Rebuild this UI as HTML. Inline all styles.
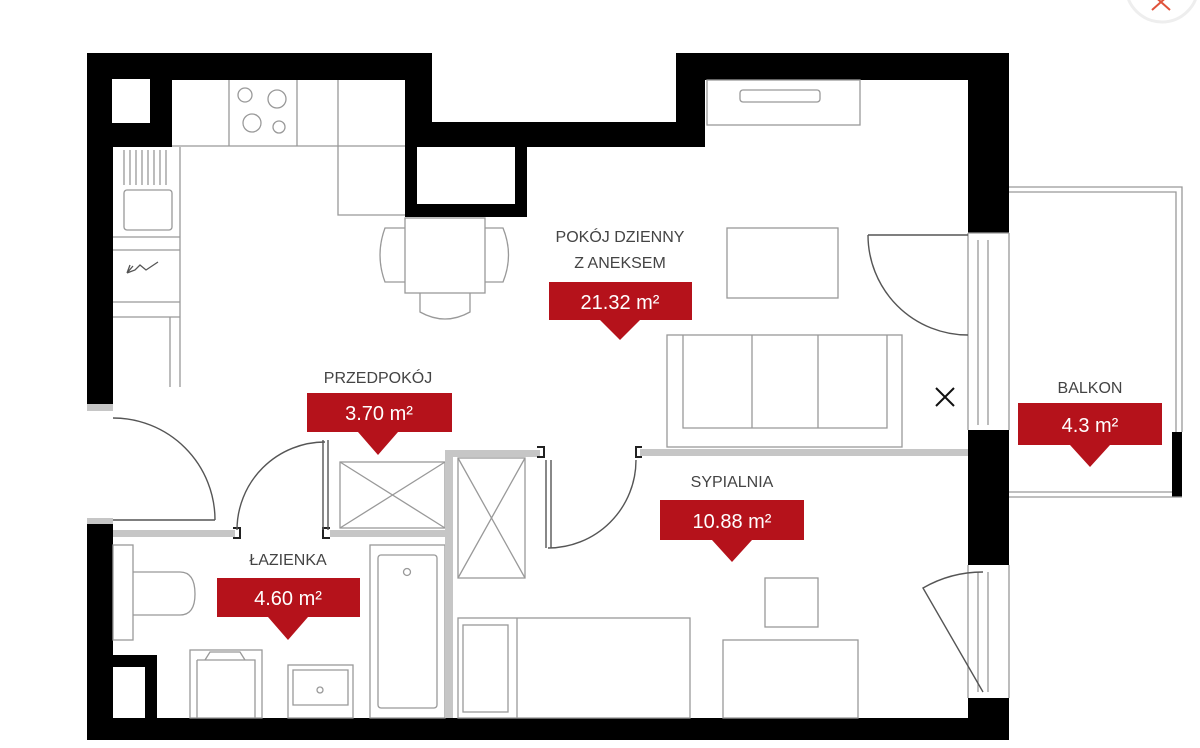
<!DOCTYPE html>
<html><head><meta charset="utf-8"><style>
html,body{margin:0;padding:0;background:#fff;}
svg{display:block;}
text{font-family:"Liberation Sans",sans-serif;}
</style></head><body>
<svg width="1200" height="748" viewBox="0 0 1200 748" xmlns="http://www.w3.org/2000/svg">
<!-- close button -->
<circle cx="1162" cy="-14" r="36" fill="#fff" stroke="#eee" stroke-width="3"/>
<path d="M1152,-6 L1170,10 M1170,-6 L1152,10" stroke="#e0523a" stroke-width="2"/>

<g fill="#000">
<path d="M87,53 H432 V122 H676 V53 H1009 V233 H968 V80 H705 V147 H527 V217 H405 V80 H172 V147 H113 V410 H87 Z"/>
<rect x="405" y="204" width="122" height="13"/>
<rect x="968" y="430" width="41" height="135"/>
<rect x="968" y="698" width="41" height="42"/>
<rect x="87" y="718" width="922" height="22"/>
<rect x="87" y="520" width="26" height="220"/>
<path d="M113,655 H157 V718 H145 V667 H113 Z"/>
<rect x="1172" y="432" width="10" height="65"/>
</g>
<rect x="112" y="79" width="38" height="44" fill="#fff"/>
<rect x="417" y="147" width="98" height="57" fill="#fff"/>

<g fill="none" stroke="#999" stroke-width="1.3">
<path d="M172,146 H405 M229,80 V146 M297,80 V146 M338,80 V215 H405"/>
<circle cx="245" cy="95" r="7"/><circle cx="277" cy="99" r="9"/><circle cx="252" cy="123" r="9"/><circle cx="279" cy="127" r="6"/>
<path d="M180,147 V387 M113,237 H180 M113,250 H180 M113,302 H180 M113,317 H180 M170,317 V387"/>
<path d="M124,150 V185 M130,150 V185 M136,150 V185 M142,150 V185 M148,150 V185 M154,150 V185 M160,150 V185 M166,150 V185"/>
<rect x="124" y="190" width="48" height="40" rx="3"/>
<path d="M127,273 L133,266 M127,273 L130,265 M127,273 L135,270 L140,265 L146,270 L158,262" stroke="#555"/>
<rect x="405" y="218" width="80" height="75"/>
<path d="M405,228 H385 Q375,255 385,282 H405 M485,228 H503 Q514,255 503,282 H485 M420,293 V312 Q445,326 470,312 V293"/>
<rect x="707" y="80" width="153" height="45"/>
<rect x="740" y="90" width="80" height="12" rx="3"/>
<rect x="727" y="228" width="111" height="70"/>
<rect x="667" y="335" width="235" height="112"/>
<path d="M683,335 V428 H887 V335 M752,335 V428 M818,335 V428"/>
<path d="M968,233 H1009 M968,233 V430 M1009,233 V430 M978,240 V425 M988,240 V425"/>
<path d="M968,565 V698 M1009,565 V698 M978,572 V692 M988,572 V692"/>
<path d="M1009,187 H1182 V432 M1009,192 H1176 V432 M1009,497 H1182 M1009,492 H1172"/>
<rect x="113" y="545" width="20" height="95"/>
<path d="M133,572 H180 Q195,572 195,594 Q195,615 180,615 H133"/>
<rect x="190" y="650" width="72" height="68"/>
<path d="M197,660 H255 V718 M197,660 V718 M205,660 L210,652 H240 L245,660"/>
<rect x="288" y="665" width="65" height="53"/>
<path d="M293,670 H348 V705 H293 Z"/>
<circle cx="320" cy="690" r="3"/>
<rect x="370" y="545" width="75" height="173"/>
<rect x="378" y="555" width="59" height="153" rx="3"/>
<circle cx="407" cy="572" r="3.5"/>
<rect x="340" y="462" width="105" height="66"/>
<path d="M340,462 L445,528 M445,462 L340,528"/>
<rect x="458" y="458" width="67" height="120"/>
<path d="M458,458 L525,578 M525,458 L458,578"/>
<rect x="458" y="618" width="232" height="100"/>
<rect x="463" y="625" width="45" height="87"/>
<path d="M517,618 V718"/>
<rect x="765" y="578" width="53" height="49"/>
<rect x="723" y="640" width="135" height="78"/>
</g>

<g fill="#c6c6c6">
<rect x="113" y="530" width="122" height="7"/>
<rect x="330" y="530" width="120" height="7"/>
<rect x="445" y="450" width="8" height="268"/>
<rect x="445" y="450" width="95" height="7"/>
<rect x="640" y="449" width="328" height="7"/>
<rect x="87" y="404" width="26" height="7"/>
<rect x="87" y="518" width="26" height="6"/>
</g>
<g fill="none" stroke="#222" stroke-width="2">
<path d="M233,528 H240 V538 H233 M330,528 H323 V538 H330 M537,447 H544 V457 H537 M642,447 H636 V457 H642"/>
</g>
<g fill="none" stroke="#555" stroke-width="1.4">
<path d="M113,418 A102,102 0 0 1 215,520 M113,520 H215"/>
<path d="M237,530 A88,88 0 0 1 325,442 M323,440 V530 M328,440 V530"/>
<path d="M548,548 A88,88 0 0 0 636,460 M546,460 V548 M551,460 V548"/>
<path d="M868,235 H968 M868,235 A100,100 0 0 0 968,335"/>
<path d="M983,692 L923,588 A120,120 0 0 1 983,572"/>
</g>
<path d="M936,388 L954,406 M954,388 L936,406" stroke="#111" stroke-width="2"/>

<g fill="#444" font-size="16" text-anchor="middle">
<text x="620" y="242">POKÓJ DZIENNY</text>
<text x="620" y="268">Z ANEKSEM</text>
<text x="378" y="383">PRZEDPOKÓJ</text>
<text x="288" y="565">ŁAZIENKA</text>
<text x="732" y="487">SYPIALNIA</text>
<text x="1090" y="393">BALKON</text>
</g>
<g fill="#b5121b">
<path d="M549,282 H692 V320 H640 L620,340 L600,320 H549 Z"/>
<path d="M307,393 H452 V432 H398 L378,455 L358,432 H307 Z"/>
<path d="M217,578 H360 V617 H308 L288,640 L268,617 H217 Z"/>
<path d="M660,500 H804 V540 H752 L732,562 L712,540 H660 Z"/>
<path d="M1018,403 H1162 V445 H1110 L1090,467 L1070,445 H1018 Z"/>
</g>
<g fill="#fff" font-size="20" text-anchor="middle">
<text x="620" y="309">21.32 m²</text>
<text x="379" y="420">3.70 m²</text>
<text x="288" y="605">4.60 m²</text>
<text x="732" y="528">10.88 m²</text>
<text x="1090" y="432">4.3 m²</text>
</g>
</svg>
</body></html>
